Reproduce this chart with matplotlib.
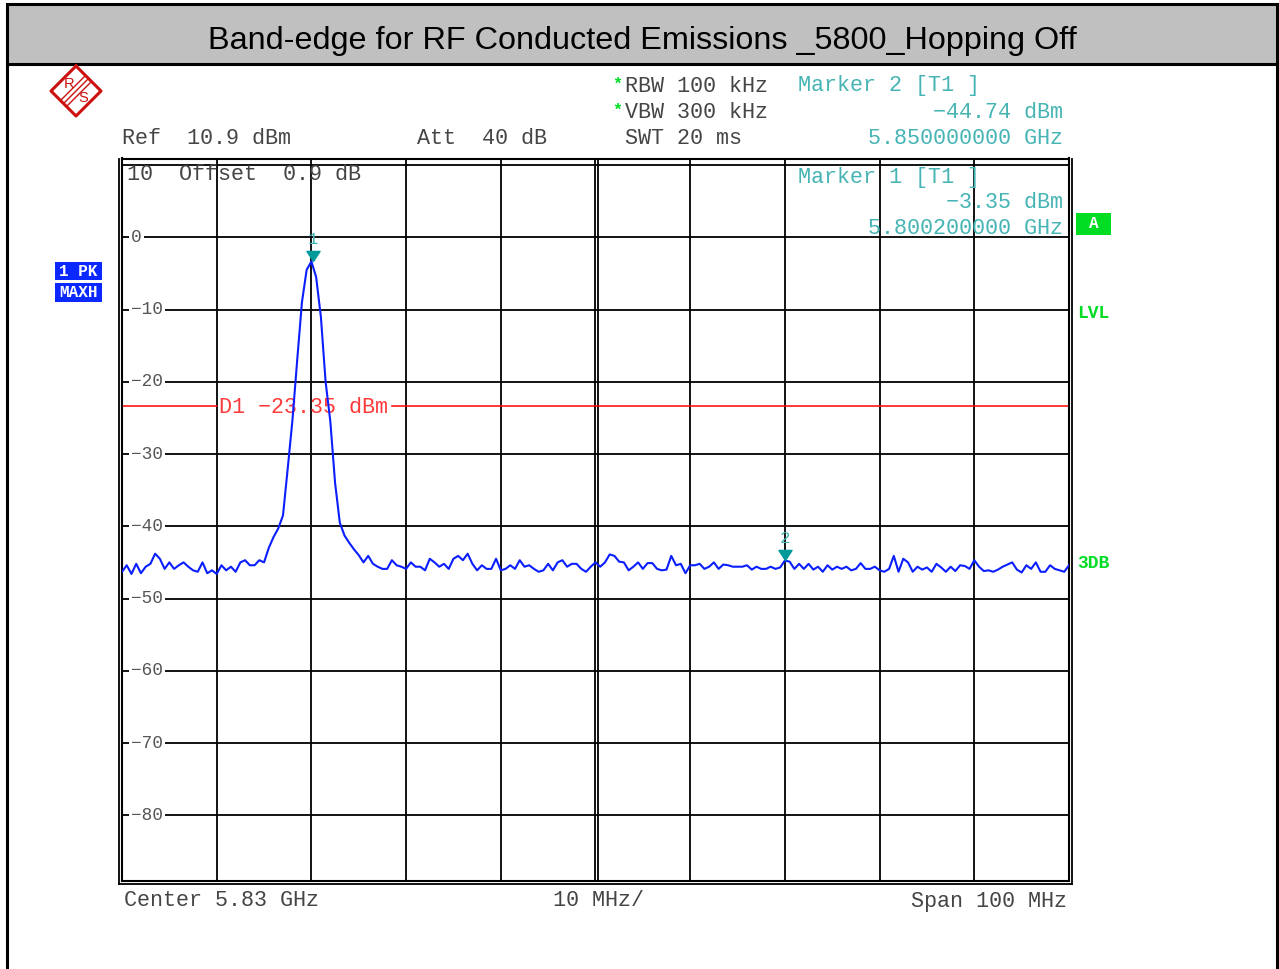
import numpy as np
import matplotlib
matplotlib.use("Agg")
from matplotlib import pyplot as plt
from matplotlib import patches, transforms
from matplotlib.lines import Line2D
from matplotlib.path import Path

# sweep: 5.78 .. 5.88 GHz, 0.5 MHz steps (201 points)
f_start, f_stop = 5.78, 5.88
level_dbm = [
    -46.3, -45.4, -46.6, -45.2, -46.5, -45.6, -45.2, -43.8, -44.5, -45.9,
    -45.0, -45.9, -45.4, -45.0, -45.6, -46.1, -46.3, -45.0, -46.5, -46.1,
    -46.6, -45.4, -46.1, -45.6, -46.3, -45.0, -44.7, -45.4, -45.4, -44.7,
    -45.0, -43.0, -41.5, -40.3, -38.5, -32.0, -25.3, -17.0, -9.0, -4.5,
    -3.35, -5.5, -11.0, -20.0, -25.5, -34.0, -39.5, -41.3, -42.3, -43.2,
    -44.0, -45.0, -44.1, -45.2, -45.6, -45.9, -45.9, -44.7, -45.4, -45.6,
    -45.9, -45.0, -45.6, -45.6, -46.1, -44.5, -45.0, -45.6, -45.2, -45.9,
    -44.5, -44.1, -44.7, -43.8, -45.2, -46.1, -45.4, -45.9, -45.9, -44.5,
    -46.1, -45.9, -45.4, -45.9, -44.7, -45.6, -45.4, -45.9, -46.3, -46.1,
    -45.2, -46.1, -45.0, -44.7, -45.6, -45.2, -45.2, -45.9, -46.3, -45.6,
    -45.0, -45.6, -45.0, -43.9, -44.1, -44.9, -45.0, -46.1, -45.6, -45.0,
    -45.9, -45.1, -45.1, -45.9, -46.1, -46.0, -44.1, -45.4, -45.2, -46.5,
    -45.4, -45.4, -45.2, -45.9, -45.6, -45.0, -45.9, -45.3, -45.4, -45.6,
    -45.6, -45.6, -45.4, -46.0, -45.6, -45.9, -45.9, -45.6, -45.9, -45.7,
    -44.74, -44.9, -45.9, -45.2, -45.9, -45.2, -46.0, -45.6, -46.3, -45.4,
    -46.0, -45.6, -45.9, -45.6, -46.1, -45.9, -45.1, -45.9, -45.9, -45.6,
    -46.1, -46.3, -45.9, -44.1, -46.3, -44.5, -45.0, -46.3, -45.6, -46.0,
    -45.7, -46.3, -45.2, -45.7, -46.3, -45.6, -46.2, -45.4, -45.5, -45.9,
    -44.7, -45.6, -46.2, -46.1, -46.3, -46.0, -45.6, -45.3, -45.0, -46.0,
    -46.4, -45.4, -45.9, -45.0, -46.3, -46.3, -45.4, -45.9, -46.1, -46.3,
    -45.4,
]
freq_ghz = np.linspace(f_start, f_stop, len(level_dbm))

ref_level = 10.9
y_labels = [0, -10, -20, -30, -40, -50, -60, -70, -80]
d1_level = -23.35
marker_freq = [5.8002, 5.85]
marker_level = [-3.35, -44.74]
marker_names = ["1", "2"]

title = "Band-edge for RF Conducted Emissions _5800_Hopping Off"

W, H = 1279, 969
fig = plt.figure(figsize=(W / 100, H / 100), dpi=100)


def fx(x):
    return x / W


def fy(y):
    return 1 - y / H


MONO = ["Liberation Mono", "DejaVu Sans Mono"]
DARK = "#454545"
TEAL = "#46b4b4"
GREEN = "#00dd22"
TS = 15.7

# outer frame + title band
fig.add_artist(patches.Rectangle((fx(7), fy(64)), fx(1277) - fx(7), fy(4) - fy(64),
                                 transform=fig.transFigure, fc="#c0c0c0", ec="none"))
fig.add_artist(patches.Rectangle((fx(7), fy(990)), fx(1277) - fx(7), fy(4) - fy(990),
                                 transform=fig.transFigure, fill=False, ec="black", lw=2.2))
fig.add_artist(Line2D([fx(7), fx(1277)], [fy(64), fy(64)], transform=fig.transFigure,
                      color="black", lw=2.2))
fig.text(fx(642), fy(41), title, ha="center", va="center", fontsize=23.3,
         family="Liberation Sans", color="black")

# plot area
ax = fig.add_axes([fx(122), fy(881), fx(1069) - fx(122), fy(158.5) - fy(881)])
ax.set_xlim(f_start, f_stop)
ax.set_ylim(ref_level - 100, ref_level)
ax.set_xticks([])
ax.set_yticks([])
for s in ax.spines.values():
    s.set_linewidth(1.5)

for f in np.arange(f_start + 0.01, f_stop - 0.005, 0.01):
    ax.axvline(f, color="black", lw=1.3, zorder=1)
# doubled centre line, 3 px to the right
shift = transforms.ScaledTranslation(3 / 100, 0, fig.dpi_scale_trans)
fc = (f_start + f_stop) / 2
ax.plot([fc, fc], [0, 1], color="black", lw=1.3, zorder=1,
        transform=ax.get_xaxis_transform() + shift)
for lv in [10] + y_labels:
    ax.axhline(lv, color="black", lw=1.3, zorder=1)

# second frame line (left, right, bottom)
for xs, ys in [([119.5, 119.5], [158.5, 883.5]), ([1072, 1072], [158.5, 883.5]),
               ([119.5, 1072], [883.5, 883.5])]:
    fig.add_artist(Line2D([fx(v) for v in xs], [fy(v) for v in ys],
                          transform=fig.transFigure, color="black", lw=1.3))

ylab_tr = transforms.blended_transform_factory(ax.transAxes, ax.transData)
for lv in y_labels:
    txt = str(lv).replace("-", "\u2212")
    ax.text((131 - 122) / 947, lv, txt, transform=ylab_tr, ha="left", va="center",
            fontsize=12.8, family=MONO, color="#555555", zorder=3,
            bbox=dict(fc="white", ec="none", pad=1.5))

# display line D1
ax.axhline(d1_level, xmin=0, xmax=(217 - 122) / 947, color="red", lw=1.1, zorder=2)
ax.axhline(d1_level, xmin=(392 - 122) / 947, xmax=1, color="red", lw=1.1, zorder=2)
ax.text((219 - 122) / 947, d1_level - 0.15, "D1 \u221223.35 dBm", transform=ylab_tr,
        ha="left", va="center", fontsize=TS, family=MONO, color="#ff3a3a", zorder=2)

# trace
ax.plot(freq_ghz, level_dbm, color="#0a1eff", lw=1.5, zorder=4)

# markers: triangle with tip on the trace
tri = Path([(-0.65, 1.0), (0.65, 1.0), (0.0, 0.0), (-0.65, 1.0)],
           [Path.MOVETO, Path.LINETO, Path.LINETO, Path.CLOSEPOLY])
for f, lv, nm in zip(marker_freq, marker_level, marker_names):
    ax.plot([f], [lv], marker=tri, markersize=14.5, color="#009a9a", zorder=5, lw=0)
    ax.annotate(nm, (f, lv), xytext=(0, 15.5), textcoords="offset points",
                ha="center", va="center", fontsize=12.5, family=MONO, color=TEAL, zorder=5)

# header texts
def t(x, y, s, ha="left", color=DARK, size=TS, weight="normal"):
    fig.text(fx(x), fy(y), s, ha=ha, va="center", fontsize=size, family=MONO,
             color=color, weight=weight)


t(612, 84, "*", color=GREEN, size=12, weight="bold")
t(612, 110, "*", color=GREEN, size=12, weight="bold")
t(625, 86, "RBW 100 kHz")
t(625, 112, "VBW 300 kHz")
t(625, 139, "SWT 20 ms")
t(122, 139, "Ref  10.9 dBm")
t(417, 139, "Att  40 dB")
t(798, 86, "Marker 2 [T1 ]", color=TEAL)
t(1063, 112, "\u221244.74 dBm", ha="right", color=TEAL)
t(1063, 139, "5.850000000 GHz", ha="right", color=TEAL)
t(127, 175, "10  Offset  0.9 dB")
t(798, 177, "Marker 1 [T1 ]", color=TEAL)
t(1063, 203, "\u22123.35 dBm", ha="right", color=TEAL)
t(1063, 229, "5.800200000 GHz", ha="right", color=TEAL)
t(124, 901, "Center 5.83 GHz")
t(553, 901, "10 MHz/")
t(1067, 901, "Span 100 MHz", ha="right")

# side boxes
def box(x0, y0, x1, y1, s, fc):
    fig.add_artist(patches.Rectangle((fx(x0), fy(y1)), fx(x1) - fx(x0), fy(y0) - fy(y1),
                                     transform=fig.transFigure, fc=fc, ec="none"))
    fig.text(fx((x0 + x1) / 2), fy((y0 + y1) / 2), s, ha="center", va="center",
             fontsize=11.5, family=MONO, weight="bold", color="white")


box(55, 262, 102, 280, "1 PK", "#0a28ff")
box(55, 283, 102, 302, "MAXH", "#0a28ff")
box(1076, 213, 1111, 235, "A", GREEN)
t(1077, 313, "LVL", color=GREEN, size=13, weight="bold")
t(1077, 563, "3DB", color=GREEN, size=13, weight="bold")

# R&S logo
cx, cy, r = 76, 91, 25
red = "#cc1111"
dia = [(cx, cy - r), (cx + r, cy), (cx, cy + r), (cx - r, cy), (cx, cy - r)]
fig.add_artist(Line2D([fx(p[0]) for p in dia], [fy(p[1]) for p in dia],
                      transform=fig.transFigure, color=red, lw=2.2))
for k in (-3, 0, 3):
    fig.add_artist(Line2D([fx(cx + r / 2 + k), fx(cx - r / 2 + k)],
                          [fy(cy - r / 2 + k), fy(cy + r / 2 + k)],
                          transform=fig.transFigure, color=red, lw=1))
fig.text(fx(cx - 7), fy(cy - 7), "R", ha="center", va="center", fontsize=10.5,
         family="Liberation Sans", color=red)
fig.text(fx(cx + 7), fy(cy + 7), "S", ha="center", va="center", fontsize=10.5,
         family="Liberation Sans", color=red)

fig.savefig("out.png", dpi=100)
